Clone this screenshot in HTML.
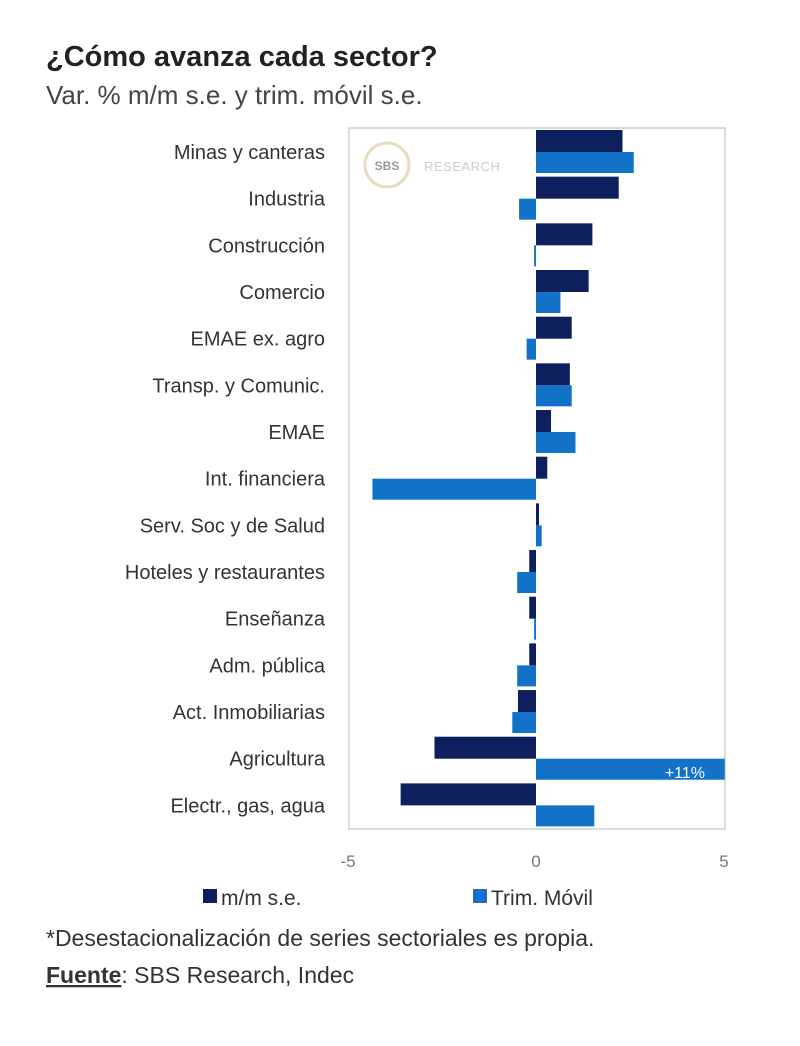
<!DOCTYPE html>
<html><head><meta charset="utf-8"><style>
body{margin:0;background:#fff;width:800px;height:1041px;overflow:hidden;font-family:"Liberation Sans",sans-serif}
</style></head><body>
<svg width="800" height="1041" xmlns="http://www.w3.org/2000/svg" font-family="Liberation Sans, sans-serif">
<text x="46" y="66" font-size="29" font-weight="bold" fill="#222">¿Cómo avanza cada sector?</text>
<text x="46" y="104" font-size="26" fill="#444">Var. % m/m s.e. y trim. móvil s.e.</text>
<rect x="349" y="128" width="376" height="701" fill="none" stroke="#cfcfcf" stroke-width="1.5"/>
<circle cx="387" cy="165" r="22" fill="none" stroke="#e8dcc0" stroke-width="3"/>
<text x="387" y="170" font-size="12" font-weight="bold" fill="#999" text-anchor="middle">SBS</text>
<text x="424" y="171" font-size="13" fill="#ccc" letter-spacing="0.5">RESEARCH</text>
<g id="g"></g>
<text x="348" y="867" font-size="17" fill="#777" text-anchor="middle">-5</text>
<text x="536" y="867" font-size="17" fill="#777" text-anchor="middle">0</text>
<text x="724" y="867" font-size="17" fill="#777" text-anchor="middle">5</text>
<rect x="203" y="889" width="14" height="14" fill="#0d1f5c"/>
<text x="221" y="905" font-size="21" fill="#333">m/m s.e.</text>
<rect x="473" y="889" width="14" height="14" fill="#1272c8"/>
<text x="491" y="905" font-size="21" fill="#333">Trim. Móvil</text>
<text x="46" y="946" font-size="23" fill="#333">*Desestacionalización de series sectoriales es propia.</text>
<text x="46" y="983" font-size="23" fill="#333"><tspan font-weight="bold" text-decoration="underline">Fuente</tspan>: SBS Research, Indec</text>
</svg>
<script>
var d=[["Minas y canteras",2.3,2.6],["Industria",2.2,-0.45],["Construcción",1.5,-0.05],["Comercio",1.4,0.65],["EMAE ex. agro",0.95,-0.25],["Transp. y Comunic.",0.9,0.95],["EMAE",0.4,1.05],["Int. financiera",0.3,-4.35],["Serv. Soc y de Salud",0.08,0.15],["Hoteles y restaurantes",-0.18,-0.5],["Enseñanza",-0.18,-0.05],["Adm. pública",-0.18,-0.5],["Act. Inmobiliarias",-0.48,-0.63],["Agricultura",-2.7,5.02],["Electr., gas, agua",-3.6,1.55]];
var s="",z=536,k=37.6;
d.forEach(function(r,i){var t=128+46.67*i;
s+='<text x="325" y="'+(t+31)+'" font-size="20" fill="#333" text-anchor="end">'+r[0]+'</text>';
function b(v,y,h,c){var w=Math.abs(v)*k,x=v<0?z-w:z;s+='<rect x="'+x+'" y="'+y+'" width="'+w+'" height="'+h+'" fill="'+c+'"/>';}
b(r[1],t+2,22,"#0d1f5c");b(r[2],t+24,21,"#1272c8");});
s+='<text x="705" y="778" font-size="16" fill="#fff" text-anchor="end">+11%</text>';
document.getElementById("g").outerHTML=s;
</script>
</body></html>
